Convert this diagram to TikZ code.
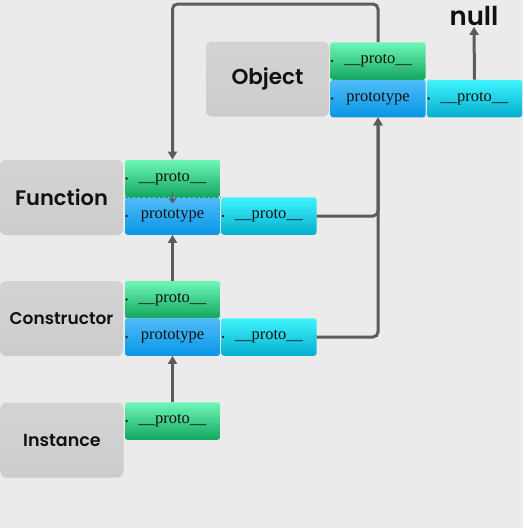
\documentclass[tikz,border=0pt]{standalone}
\usepackage{fontspec}
\newfontfamily\lblfont{Poppins SemiBold}
\newfontfamily\cellfont{Liberation Serif}
\usetikzlibrary{arrows.meta, positioning}
\definecolor{cBg}{HTML}{EBEBEB}
\definecolor{cInk}{HTML}{111111}
\definecolor{cLine}{HTML}{5C5C5C}
\definecolor{cGray}{HTML}{CCCCCC}
\definecolor{cGrayT}{HTML}{D3D3D3}
\definecolor{cGrnT}{HTML}{6FF7B8}
\definecolor{cGrnB}{HTML}{13A65F}
\definecolor{cBluT}{HTML}{50BCF8}
\definecolor{cBluB}{HTML}{0896E6}
\definecolor{cCyaT}{HTML}{40F4FD}
\definecolor{cCyaB}{HTML}{05AECF}
\newcommand{\pdot}[1]{\fill[cInk] ([xshift=1.8pt]#1.west) circle (1.3pt);}
\newcommand{\lblsize}[1]{\lblfont\fontsize{#1}{#1}\selectfont}
\tikzset{
  cls/.style={rectangle, rounded corners=6pt, top color=cGrayT, bottom color=cGray, middle color=cGrayT!60!cGray,
              text=cInk, font=\lblsize{21}, minimum width=123pt, minimum height=75pt, inner sep=0pt},
  cell/.style={rectangle, rounded corners=2.5pt, text=cInk, font=\cellfont\fontsize{16.5}{17}\selectfont,
               minimum width=95pt, minimum height=37.5pt, inner sep=0pt},
  pro/.style={cell, top color=cGrnT, bottom color=cGrnB},
  ptype/.style={cell, top color=cBluT, bottom color=cBluB},
  up/.style={cell, top color=cCyaT, bottom color=cCyaB},
  link/.style={-{Triangle[length=8pt, width=9pt]}, line width=3pt, draw=cLine, rounded corners=5pt},
  sep/.style={densely dashed, line width=0.8pt, draw=cGrnB!70!cLine},
}

\begin{document}
\begin{tikzpicture}[x=1pt, y=-1pt]
  \fill[cBg] (0,0) rectangle (523,528);
  \useasboundingbox (0,0) rectangle (523,528);

  % ---- Object
  \node[cls, font=\lblsize{21.5}] (objL) at (267.5,79) {Object};
  \node[pro] (objP) at (378,61) {\_\_proto\_\_};
  \node[ptype] (objT) at (378,98.5) {prototype};
  \node[up] (objQ) at (474.5,98.5) {\_\_proto\_\_};
  \node[font=\lblsize{26}, text=cInk, inner sep=1pt] (null) at (474,16) {null};

  % ---- Function
  \node[cls] (funL) at (61.5,197.5) {Function};
  \node[pro] (funP) at (172.5,178.5) {\_\_proto\_\_};
  \node[ptype] (funT) at (172.5,216) {prototype};
  \node[up] (funQ) at (269,216) {\_\_proto\_\_};

  % ---- Constructor
  \node[cls, font=\lblsize{17}] (conL) at (61.5,318.5) {Constructor};
  \node[pro] (conP) at (172.5,299.5) {\_\_proto\_\_};
  \node[ptype] (conT) at (172.5,337) {prototype};
  \node[up] (conQ) at (269,337) {\_\_proto\_\_};

  % ---- Instance
  \node[cls, font=\lblsize{17.5}] (insL) at (62,440) {Instance};
  \node[pro] (insP) at (172.5,421) {\_\_proto\_\_};

  % ---- dots at the left of each cell
  \pdot{objP}\pdot{objT}\pdot{objQ}
  \pdot{funP}\pdot{funT}\pdot{funQ}
  \pdot{conP}\pdot{conT}\pdot{conQ}
  \pdot{insP}

  % ---- Function.__proto__ is Function.prototype
  \draw[sep] (funP.south west) -- (funP.south east);
  \draw[-{Triangle[length=5pt, width=7pt]}, line width=1.6pt, draw=cLine] ([yshift=5pt]funP.south) -- ([yshift=-6pt]funP.south);

  % ---- chain links
  \coordinate (loop) at (275,4);
  \draw[link] (objP.north) |- (loop) -| (funP.north);
  \draw[link] (funQ.east) -| (objT.south);
  \draw[link] (conQ.east) -| (objT.south);
  \draw[link] (conP.north) -- (funT.south);
  \draw[link] (insP.north) -- (conT.south);
  \draw[link] (objQ.north) -- (null.south);
\end{tikzpicture}
\end{document}
